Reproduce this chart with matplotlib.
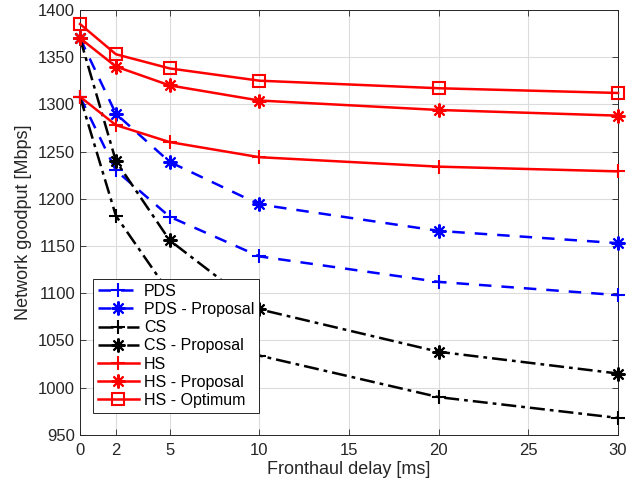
import matplotlib.pyplot as plt

plt.rcParams["font.family"] = ["Liberation Sans", "DejaVu Sans"]

delay = [0, 2, 5, 10, 20, 30]

pds          = [1308, 1230, 1181, 1139, 1112, 1098]
pds_proposal = [1370, 1290, 1239, 1194, 1166, 1153]
cs           = [1308, 1182, 1100, 1034, 990, 968]
cs_proposal  = [1370, 1240, 1156, 1083, 1038, 1015]
hs           = [1308, 1278, 1260, 1244, 1234, 1229]
hs_proposal  = [1370, 1340, 1320, 1304, 1294, 1288]
hs_optimum   = [1385, 1353, 1338, 1325, 1317, 1312]

xticks = [0, 2, 5, 10, 15, 20, 25, 30]
yticks = list(range(950, 1401, 50))

AST = (8, 2, 0)   # MATLAB-style asterisk
TXT = "#262626"
DASHDOT = (0, (6, 2, 1.5, 2))

fig = plt.figure(figsize=(6.3, 4.92), dpi=100)
ax = fig.add_axes([0.127, 0.116, 0.854, 0.864])

series = [
    (pds,          "PDS",            "blue",  (0, (5, 4)), "+", 10),
    (pds_proposal, "PDS - Proposal", "blue",  (0, (5, 4)), AST, 10),
    (cs,           "CS",             "black", DASHDOT,     "+", 10),
    (cs_proposal,  "CS - Proposal",  "black", DASHDOT,     AST, 10),
    (hs,           "HS",             "red",   "-",         "+", 10),
    (hs_proposal,  "HS - Proposal",  "red",   "-",         AST, 10),
    (hs_optimum,   "HS - Optimum",   "red",   "-",         "s", 8),
]
for vals, label, col, ls, mk, ms in series:
    ax.plot(delay, vals, color=col, linestyle=ls, linewidth=1.8, marker=mk,
            markersize=ms, markeredgewidth=1.5, markerfacecolor="none",
            markeredgecolor=col, label=label, clip_on=False, zorder=3)

ax.set_xlim(0, 30)
ax.set_ylim(950, 1400)
ax.set_xticks(xticks)
ax.set_yticks(yticks)
ax.tick_params(direction="in", top=True, right=True, labelsize=12,
               colors=TXT, length=4, width=0.6)
ax.tick_params(axis="x", pad=6)
ax.grid(True, color="#dcdcdc", linewidth=0.8)
ax.set_axisbelow(True)
for s in ax.spines.values():
    s.set_color(TXT)
    s.set_linewidth(0.7)
ax.set_xlabel("Fronthaul delay [ms]", fontsize=13, color=TXT, labelpad=2)
ax.set_ylabel("Network goodput [Mbps]", fontsize=13, color=TXT, labelpad=4)

leg = ax.legend(loc="lower left", bbox_to_anchor=(0.024, 0.052), fontsize=11.5,
                frameon=True, fancybox=False, edgecolor=TXT, framealpha=1,
                handlelength=2.6, borderpad=0.3, labelspacing=0.2,
                handletextpad=0.3, borderaxespad=0)
leg.get_frame().set_linewidth(0.7)
leg.set_zorder(5)

fig.savefig("out.png", dpi=100, facecolor="white")
